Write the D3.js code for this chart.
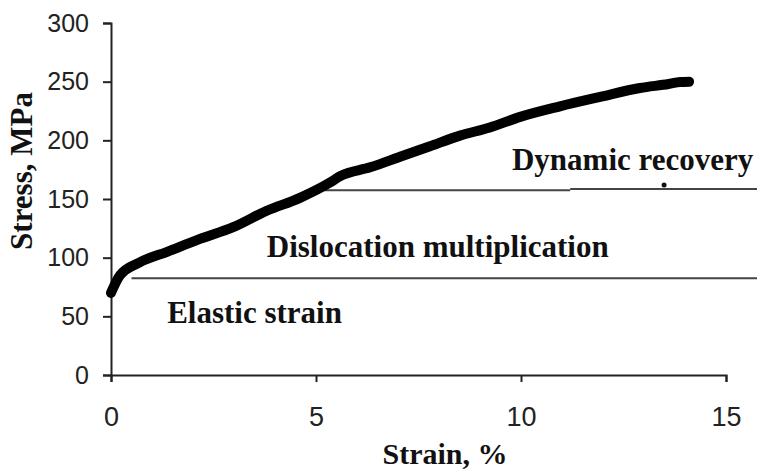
<!DOCTYPE html>
<html lang="en">
<head>
    <meta charset="UTF-8">
    <title>Stress-strain curve</title>
    <script src="https://cdnjs.cloudflare.com/ajax/libs/d3/7.8.5/d3.min.js"></script>
    <style>
        body { margin: 0; background: #fff; }
        svg { display: block; }
        .tick text { font-family: "Liberation Sans", Arial, sans-serif; fill: #222; }
        .title, .note { font-family: "Liberation Serif", "Times New Roman", serif; font-weight: bold; fill: #111; }
    </style>
</head>
<body>
<div id="chart"></div>
<script>
    // strain (%) and stress (MPa)
    const strain = [0, 0.22, 0.7, 1.37, 2.17, 2.98, 3.8, 4.61, 5.34, 5.59, 6.32, 7.05, 7.78, 8.51, 9.24, 9.98, 10.95, 11.93, 12.9, 13.6, 13.88, 14.1];
    const stress = [70, 85, 96, 105, 116, 126, 140, 151, 164, 169.5, 177, 186, 195, 204, 211, 220, 229, 237, 244.6, 248, 249.7, 250];

    const xTicks = [0, 5, 10, 15];
    const yTicks = [0, 50, 100, 150, 200, 250, 300];

    // region boundaries: [from strain, to strain, stress]
    const boundaries = [
        [0.5, 15.8, 82.5],
        [5.2, 11.2, 157.5],
        [11.2, 15.8, 158.5]
    ];
    const markerPoint = [13.49, 162];

    const regionLabels = ["Dynamic recovery", "Dislocation multiplication", "Elastic strain"];
    const labelAt = [[9.78, 174.7], [3.8, 100.6], [1.37, 44.3]];

    const width = 757, height = 472;
    const x = d3.scaleLinear().domain([0, 15]).range([111, 726]);
    const y = d3.scaleLinear().domain([0, 300]).range([375, 23]);

    const svg = d3.select("#chart").append("svg")
        .attr("width", width)
        .attr("height", height);

    // boundary lines between regions
    svg.append("g")
        .selectAll("line")
        .data(boundaries)
        .enter().append("line")
        .attr("x1", d => x(d[0]))
        .attr("x2", d => x(d[1]))
        .attr("y1", d => y(d[2]))
        .attr("y2", d => y(d[2]))
        .attr("stroke", "#444")
        .attr("stroke-width", 2);

    svg.append("circle")
        .attr("cx", x(markerPoint[0]))
        .attr("cy", y(markerPoint[1]))
        .attr("r", 2.5)
        .attr("fill", "#111");

    // axes
    const xAxis = svg.append("g")
        .attr("transform", `translate(0,${y(0)})`)
        .call(d3.axisBottom(x).tickValues(xTicks).tickFormat(d3.format("d")).tickSizeOuter(0).tickSize(7).tickPadding(25));
    xAxis.selectAll(".tick text").attr("font-size", 27);
    const yAxis = svg.append("g")
        .attr("transform", `translate(${x(0)},0)`)
        .call(d3.axisLeft(y).tickValues(yTicks).tickFormat(d3.format("d")).tickSizeOuter(0).tickSize(8).tickPadding(14));
    yAxis.selectAll(".tick text").attr("font-size", 25);
    [xAxis, yAxis].forEach(a => {
        a.select(".domain").attr("stroke", "#222").attr("stroke-width", 2);
        a.selectAll(".tick line").attr("stroke", "#222").attr("stroke-width", 2);
    });

    // the curve
    const pts = strain.map((s, i) => [s, stress[i]]);
    svg.append("path")
        .datum(pts)
        .attr("fill", "none")
        .attr("stroke", "#000")
        .attr("stroke-width", 10)
        .attr("stroke-linecap", "round")
        .attr("stroke-linejoin", "round")
        .attr("d", d3.line().curve(d3.curveMonotoneX).x(d => x(d[0])).y(d => y(d[1])));

    // region labels
    svg.append("g")
        .selectAll("text")
        .data(regionLabels)
        .enter().append("text")
        .attr("class", "note")
        .attr("x", (d, i) => x(labelAt[i][0]))
        .attr("y", (d, i) => y(labelAt[i][1]))
        .attr("font-size", 31)
        .text(d => d);

    // axis titles
    svg.append("text")
        .attr("class", "title")
        .attr("x", 445)
        .attr("y", 464)
        .attr("text-anchor", "middle")
        .attr("font-size", 30)
        .text("Strain, %");

    svg.append("text")
        .attr("class", "title")
        .attr("transform", "translate(32,171) rotate(-90)")
        .attr("text-anchor", "middle")
        .attr("font-size", 31)
        .text("Stress, MPa");
</script>
</body>
</html>
